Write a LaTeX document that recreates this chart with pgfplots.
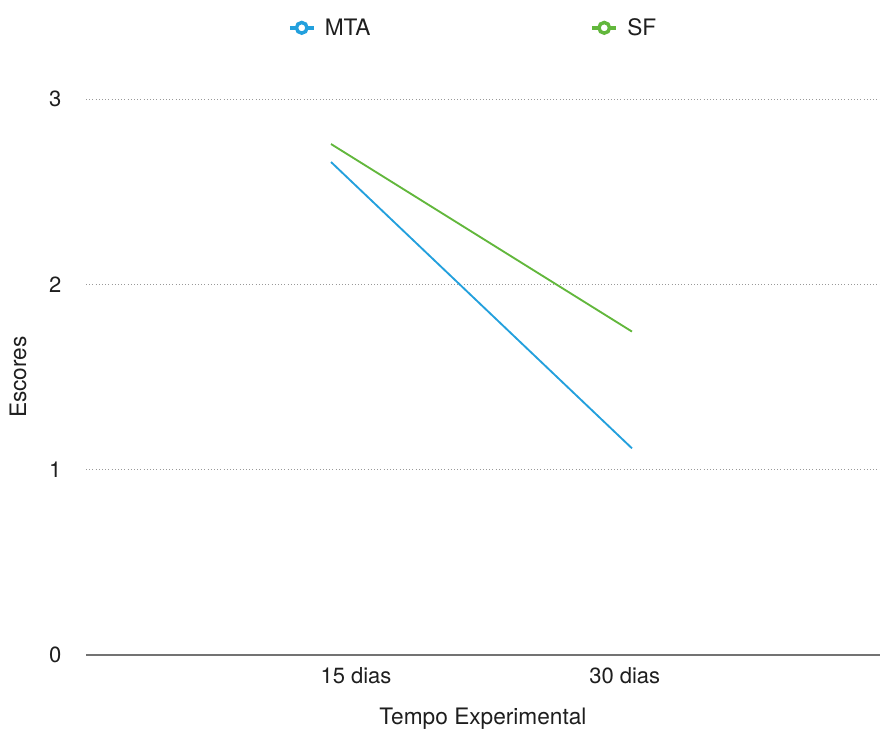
\documentclass[border=0pt]{standalone}
\usepackage{pgfplots}
\pgfplotsset{compat=1.18}
\usepackage{fontspec}
\setmainfont{TeX Gyre Heros}
\definecolor{mtablue}{RGB}{35,160,221}
\definecolor{sfgreen}{RGB}{98,183,60}
\definecolor{txt}{RGB}{30,30,30}
\begin{document}
\begin{tikzpicture}
\useasboundingbox (0pt,0pt) rectangle (660pt,546pt);
\begin{axis}[
  at={(64.5pt,54.75pt)}, anchor=south west,
  scale only axis,
  width=595.5pt, height=417pt,
  xmin=0.186, xmax=2.824,
  ymin=0, ymax=3,
  clip=false,
  axis x line*=bottom,
  axis y line*=left,
  y axis line style={draw=none},
  x axis line style={draw=black!55, line width=0.9pt, -},
  xtick={1.083,1.976}, xticklabels={15 dias,30 dias},
  ytick={0,1,2,3},
  major tick length=0pt,
  ymajorgrids,
  grid style={draw=black!40, dotted, line width=0.7pt},
  /pgf/number format/assume math mode=true,
  ticklabel style={font=\fontsize{16.5}{19}\selectfont, text=txt},
  xticklabel style={yshift=-6pt},
  yticklabel style={xshift=-15pt},
  xlabel={Tempo Experimental},
  ylabel={Escores},
  label style={font=\fontsize{17}{20}\selectfont, text=txt},
  xlabel style={yshift=-11pt},
  ylabel style={yshift=10pt},
  legend columns=2,
  legend style={at={(0.488,1.128)}, anchor=center, draw=none, fill=none,
    font=\fontsize{17}{20}\selectfont, text=txt,
    /tikz/every odd column/.append style={column sep=5pt},
    /tikz/every even column/.append style={column sep=163pt}},
  legend image code/.code={
    \draw[#1, line width=2.6pt] (0pt,0pt) -- (18pt,0pt);
    \draw[#1, fill=white, line width=2.6pt] (9pt,0pt) circle (4pt);
  },
]
\addplot[mtablue, line width=1.4pt, mark=none] coordinates {(1,2.66) (2,1.115)};
\addlegendentry{MTA}
\addplot[sfgreen, line width=1.4pt, mark=none] coordinates {(1,2.757) (2,1.745)};
\addlegendentry{SF}
\end{axis}
\end{tikzpicture}
\end{document}
